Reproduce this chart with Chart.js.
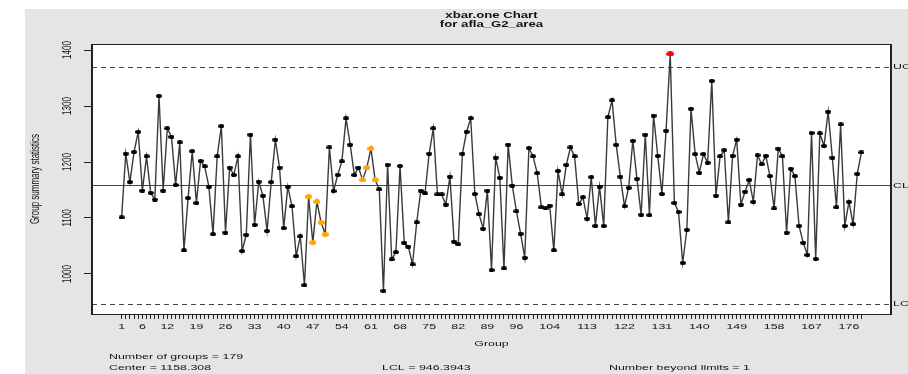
<!DOCTYPE html>
<html>
<head>
<meta charset="utf-8">
<title>xbar.one Chart for afla_G2_area</title>
<script src="https://cdn.jsdelivr.net/npm/chart.js@4.4.1/dist/chart.umd.min.js"></script>
<style>
  html, body { margin: 0; padding: 0; background: #fff; }
  #wrap { width: 908px; height: 374px; }
</style>
</head>
<body>
<div id="wrap"><canvas id="qcc" width="908" height="374"></canvas></div>
<script>
// group summary statistics (one value per group)
const groupValues = [
  1101, 1215, 1164, 1218, 1254, 1149, 1210, 1145, 1133, 1318,
  1149, 1260, 1245, 1159, 1235, 1042, 1136, 1219, 1127, 1202,
  1192, 1156, 1071, 1210, 1264, 1074, 1190, 1177, 1210, 1041,
  1070, 1249, 1088, 1165, 1140, 1077, 1164, 1240, 1190, 1082,
  1156, 1121, 1032, 1067, 980, 1138, 1056, 1129, 1092, 1071,
  1226, 1148, 1177, 1201, 1278, 1231, 1177, 1190, 1168, 1190,
  1224, 1168, 1151, 970, 1195, 1026, 1039, 1193, 1056, 1049,
  1017, 1092, 1149, 1144, 1215, 1260, 1142, 1142, 1124, 1174,
  1058, 1053, 1215, 1254, 1278, 1143, 1107, 1081, 1149, 1007,
  1208, 1172, 1010, 1231, 1158, 1112, 1072, 1029, 1225, 1210,
  1180, 1119, 1117, 1122, 1042, 1184, 1142, 1195, 1226, 1210,
  1125, 1137, 1099, 1173, 1086, 1156, 1086, 1280, 1310, 1231,
  1174, 1121, 1154, 1238, 1170, 1106, 1249, 1105, 1283, 1211,
  1143, 1256, 1393, 1127, 1111, 1020, 1079, 1295, 1214, 1181,
  1214, 1199, 1345, 1140, 1210, 1221, 1092, 1211, 1240, 1124,
  1147, 1168, 1129, 1212, 1196, 1211, 1175, 1117, 1224, 1210,
  1074, 1188, 1175, 1086, 1056, 1034, 1252, 1027, 1251, 1229,
  1290, 1208, 1119, 1267, 1086, 1129, 1089, 1179, 1217
];
const groups = groupValues.map((v, i) => i + 1);

// control limits
const center = 1158.308;
const lcl = 946.3943;
const ucl = 1370.221;

// groups flagged as violating runs (orange)
const runViolations = [46, 47, 48, 49, 50, 59, 60, 61, 62];

// axis ticks
const xTickLabels = [1, 6, 12, 19, 26, 33, 40, 47, 54, 61, 68, 75, 82, 89, 96, 104, 113, 122, 131, 140, 149, 158, 167, 176];
const yTicks = [1000, 1100, 1200, 1300, 1400];

// summary lines under the chart
const statsCol1 = ['Number of groups = 179', 'Center = 1158.308', 'StdDev = 70.63823'];
const statsCol2 = ['', 'LCL = 946.3943', 'UCL = 1370.221'];
const statsCol3 = ['', 'Number beyond limits = 1', 'Number violating runs = 9'];

// the picture is stretched sideways, so text is too
const SX = 1.55;
const FONT = '"Liberation Sans", Arial, Helvetica, sans-serif';

function drawText(ctx, s, x, y, size, align, bold, rotate) {
  ctx.save();
  ctx.translate(x, y);
  ctx.scale(SX, 1);
  if (rotate) ctx.rotate(-Math.PI / 2);
  ctx.font = (bold ? 'bold ' : '') + size + 'px ' + FONT;
  ctx.textAlign = align;
  ctx.textBaseline = 'middle';
  ctx.fillStyle = '#111';
  ctx.fillText(s, 0, 0);
  ctx.restore();
}

function dot(w, h, color) {
  const c = document.createElement('canvas');
  c.width = w;
  c.height = h;
  const g = c.getContext('2d');
  g.fillStyle = color;
  g.beginPath();
  g.ellipse(w / 2, h / 2, w / 2, h / 2, 0, 0, Math.PI * 2);
  g.fill();
  return c;
}
const dotBlack = dot(6, 4, '#000');
const dotOrange = dot(7, 5, '#ffa500');
const dotRed = dot(8, 5, '#ff0000');

function pointStyleFor(i) {
  const v = groupValues[i];
  if (v > ucl || v < lcl) return dotRed;
  if (runViolations.includes(groups[i])) return dotOrange;
  return dotBlack;
}

const decor = {
  id: 'decor',
  beforeDraw(chart) {
    const ctx = chart.ctx;
    const a = chart.chartArea;
    ctx.save();
    ctx.fillStyle = '#fff';
    ctx.fillRect(0, 0, chart.width, chart.height);
    ctx.fillStyle = '#e5e5e5';
    ctx.fillRect(25, 9, chart.width - 25, chart.height - 9);
    ctx.fillStyle = '#fff';
    ctx.fillRect(a.left, a.top, a.right - a.left, a.bottom - a.top);
    ctx.restore();
  },
  beforeDatasetsDraw(chart) {
    const ctx = chart.ctx;
    const a = chart.chartArea;
    const y = chart.scales.y;
    ctx.save();
    ctx.strokeStyle = '#444';
    ctx.lineWidth = 1;
    [[ucl, [5, 4]], [lcl, [5, 4]], [center, []]].forEach(([v, dash]) => {
      const py = Math.round(y.getPixelForValue(v)) + 0.5;
      ctx.setLineDash(dash);
      ctx.beginPath();
      ctx.moveTo(a.left, py);
      ctx.lineTo(a.right, py);
      ctx.stroke();
    });
    ctx.restore();
  },
  afterDraw(chart) {
    const ctx = chart.ctx;
    const a = chart.chartArea;
    const x = chart.scales.x;
    const y = chart.scales.y;
    ctx.save();
    // plot frame
    ctx.strokeStyle = '#222';
    ctx.lineWidth = 1;
    ctx.strokeRect(a.left + 0.5, a.top + 0.5, a.right - a.left - 1, a.bottom - a.top);
    ctx.fillStyle = '#222';
    ctx.fillRect(a.left - 1, a.top, 2, a.bottom - a.top + 1);
    ctx.fillRect(a.right - 1, a.top, 2, a.bottom - a.top + 1);
    ctx.restore();

    const midX = (a.left + a.right) / 2;
    drawText(ctx, 'xbar.one Chart', midX, 15.5, 8.5, 'center', true);
    drawText(ctx, 'for afla_G2_area', midX, 25, 8.5, 'center', true);

    yTicks.forEach(v => drawText(ctx, String(v), 68, y.getPixelForValue(v), 8, 'center', false, true));
    drawText(ctx, 'Group summary statistics', 35.5, (a.top + a.bottom) / 2, 8, 'center', false, true);

    xTickLabels.forEach(v => drawText(ctx, String(v), x.getPixelForValue(v), 326.5, 8, 'center'));
    drawText(ctx, 'Group', midX, 344, 8, 'center');

    drawText(ctx, 'UCL', a.right + 2, y.getPixelForValue(ucl), 8, 'left');
    drawText(ctx, 'CL', a.right + 2, y.getPixelForValue(center), 8, 'left');
    drawText(ctx, 'LCL', a.right + 2, y.getPixelForValue(lcl), 8, 'left');

    const rows = [356.5, 367.5, 378.5];
    rows.forEach((ry, i) => {
      if (statsCol1[i]) drawText(ctx, statsCol1[i], 109, ry, 8, 'left');
      if (statsCol2[i]) drawText(ctx, statsCol2[i], 382, ry, 8, 'left');
      if (statsCol3[i]) drawText(ctx, statsCol3[i], 609, ry, 8, 'left');
    });
  }
};

new Chart(document.getElementById('qcc'), {
  type: 'line',
  data: {
    datasets: [{
      data: groups.map((g, i) => ({ x: g, y: groupValues[i] })),
      borderColor: '#3a3a3a',
      borderWidth: 1.4,
      tension: 0,
      pointStyle: ctx => pointStyleFor(ctx.dataIndex),
      pointRadius: 3,
      clip: false
    }]
  },
  options: {
    responsive: false,
    animation: false,
    devicePixelRatio: 1,
    layout: { padding: { left: 25, top: 44, right: 17, bottom: 0 } },
    plugins: { legend: { display: false }, tooltip: { enabled: false } },
    scales: {
      x: {
        type: 'linear',
        min: -6.12,
        max: 186.12,
        afterBuildTicks: s => { s.ticks = groups.map(v => ({ value: v })); },
        afterFit: s => { s.height = 60; },
        ticks: { display: false, autoSkip: false },
        grid: { drawOnChartArea: false, drawTicks: true, tickLength: 5, color: '#222', lineWidth: 1 },
        border: { display: false }
      },
      y: {
        min: 928.55,
        max: 1410.75,
        afterBuildTicks: s => { s.ticks = yTicks.map(v => ({ value: v })); },
        afterFit: s => { s.width = 67; },
        ticks: { display: false },
        grid: { drawOnChartArea: false, drawTicks: true, tickLength: 8, color: '#222', lineWidth: 1 },
        border: { display: false }
      }
    }
  },
  plugins: [decor]
});
</script>
</body>
</html>
